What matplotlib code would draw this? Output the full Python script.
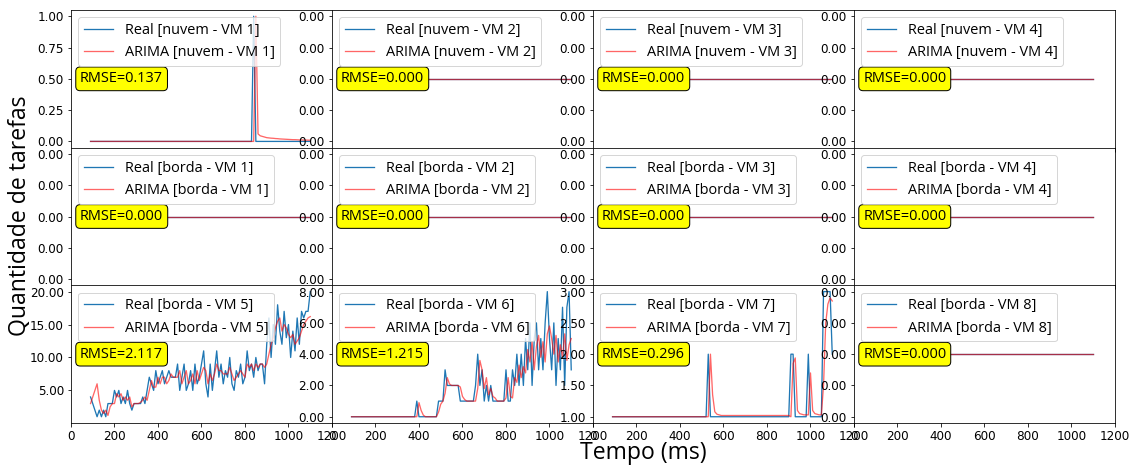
import numpy as np
import matplotlib.pyplot as plt
from matplotlib.ticker import FuncFormatter

# one sample every 10 ms
tempo = np.arange(90, 1101, 10)

# nuvem - VM 1
real_nuvem_vm1 = [0] * 75 + [1] + [0] * 26
arima_nuvem_vm1 = [0] * 76 + [1.0, 0.06, 0.045, 0.04, 0.035, 0.03,
                              0.028, 0.026, 0.025, 0.023, 0.022, 0.02, 0.019, 0.018, 0.017, 0.016,
                              0.015, 0.014, 0.014, 0.013, 0.012, 0.012, 0.011, 0.011, 0.01, 0.01]

# borda - VM 5
real_borda_vm5 = [4, 3, 2, 1, 2, 1, 2, 1, 3, 3,
                  3, 5, 4, 5, 3, 4, 3, 5, 3, 2,
                  3, 3, 3, 3, 4, 3, 5, 7, 6, 5,
                  8, 6, 7, 8, 6, 7, 8, 7, 7, 7,
                  9, 5, 7, 9, 5, 6, 8, 5, 9, 6,
                  7, 9, 11, 6, 4, 9, 5, 8, 11, 7,
                  9, 6, 8, 7, 10, 6, 5, 8, 7, 9,
                  6, 7, 11, 8, 9, 7, 10, 8, 9, 9,
                  6, 12, 16, 10, 15, 12, 18, 14, 12, 17,
                  13, 15, 10, 14, 11, 16, 12, 17, 16, 17,
                  17, 20]
arima_borda_vm5 = [3, 4, 5, 6, 3.5, 2, 1.5, 2, 1.2, 2.5,
                   3, 3, 4.5, 4, 4.5, 3.5, 4, 3.5, 4, 2.5,
                   3, 3, 3, 3.2, 3.5, 4, 3.5, 5, 6.5, 5.5,
                   5.5, 7, 6, 7, 7, 6, 6.5, 7.5, 7, 7,
                   7, 8, 6, 7, 8, 6, 6.5, 7.5, 6, 8,
                   6.5, 7.5, 8.5, 8, 6, 7.5, 6.5, 7.5, 9, 8,
                   8, 7.5, 7.5, 7.5, 8.5, 7.5, 6.5, 7, 7.5, 8,
                   7.5, 7, 9, 8.5, 9, 8, 9, 8.5, 9, 9,
                   8.5, 9, 10.5, 12, 13, 14.5, 15.5, 16, 14, 15,
                   14.5, 13.5, 13, 13.5, 12, 12.5, 13, 14, 15, 15.5,
                   16, 16.2]

# borda - VM 6
real_borda_vm6 = [0] * 30 + [1, 0, 0, 0, 0, 0, 0, 0, 0, 0,
                             1, 1, 1, 3, 2, 2, 2, 2, 2, 2,
                             1, 1, 1, 1, 1, 1, 1, 2, 4, 2,
                             3, 1, 2, 1, 2, 1, 1, 1, 1, 1,
                             1, 3, 1, 1, 3, 2, 4, 2, 4, 2,
                             5, 3, 6, 2, 5, 6, 3, 5, 3, 6,
                             8, 5, 3, 6, 2, 5, 3, 7, 2, 7,
                             8, 3]
arima_borda_vm6 = [0] * 30 + [0, 0.9, 0.4, 0.1, 0, 0, 0, 0, 0, 0,
                              0.3, 0.8, 1, 1.5, 2.5, 2.1, 2, 2, 2, 2,
                              1.9, 1.3, 1.1, 1, 1, 1, 1, 1, 1.8, 3.6,
                              3, 1.8, 2.5, 1.4, 1.8, 1.3, 1.2, 1, 1, 1,
                              1, 1.2, 2.5, 1.3, 1.2, 2.5, 2.2, 3.3, 2.5, 3.2,
                              2.8, 4.3, 3.5, 4.8, 3, 4.5, 5.2, 3.8, 4.8, 3.5,
                              5.3, 5.8, 5, 4, 5.2, 3.5, 4.6, 3.8, 5.3, 3.6,
                              4.6, 5.0]

# borda - VM 7
real_borda_vm7 = [1] * 44 + [2] + [1] * 37 + [2, 2] + [1] * 6 + [2] + [1] * 6 + [3, 3, 3, 3, 2]
arima_borda_vm7 = [1.0] * 45 + [2.0, 1.35, 1.08, 1.04, 1.03] + [1.02] * 32 + \
    [1.0, 1.85, 1.94, 1.1, 1.05, 1.04, 1.03, 1.03, 1.03, 1.7,
     1.1, 1.05, 1.04, 1.03, 1.03, 1.5, 2.5, 2.8, 2.9, 2.85]

# VMs with no tasks at all
sem_tarefas = [0] * 102

grupos = ["nuvem"] * 4 + ["borda"] * 8
vms = [1, 2, 3, 4, 1, 2, 3, 4, 5, 6, 7, 8]
reais = [real_nuvem_vm1, sem_tarefas, sem_tarefas, sem_tarefas,
         sem_tarefas, sem_tarefas, sem_tarefas, sem_tarefas,
         real_borda_vm5, real_borda_vm6, real_borda_vm7, sem_tarefas]
previstos = [arima_nuvem_vm1, sem_tarefas, sem_tarefas, sem_tarefas,
             sem_tarefas, sem_tarefas, sem_tarefas, sem_tarefas,
             arima_borda_vm5, arima_borda_vm6, arima_borda_vm7, sem_tarefas]
rmses = [0.137, 0.000, 0.000, 0.000,
         0.000, 0.000, 0.000, 0.000,
         2.117, 1.215, 0.296, 0.000]

texto = ["Open Sans", "DejaVu Sans"]

fig, axes = plt.subplots(3, 4, sharex=True, figsize=(1143 / 72, 470 / 72), dpi=72)
fig.subplots_adjust(left=0.0621, right=0.9755, top=0.9787, bottom=0.1, wspace=0, hspace=0)

for ax, grupo, vm, real, arima, rmse in zip(axes.flat, grupos, vms, reais, previstos, rmses):
    ax.plot(tempo, real, color="#1f77b4", lw=1.3, label=f"Real [{grupo} - VM {vm}]")
    ax.plot(tempo, arima, color="red", alpha=0.6, lw=1.3, label=f"ARIMA [{grupo} - VM {vm}]")
    if max(real) == min(real):
        v = real[0]
        ax.set_ylim(v - 0.0011, v + 0.0011)
    ax.yaxis.set_major_formatter(FuncFormatter(lambda y, _: f"{abs(y):.2f}"))
    ax.tick_params(labelsize=12)
    ax.legend(loc="upper left", prop={"family": texto, "size": 14.5})
    ax.text(0.035, 0.5, f"RMSE={rmse:.3f}", transform=ax.transAxes, va="center",
            family=texto, fontsize=14.5,
            bbox=dict(boxstyle="round,pad=0.3", fc="yellow", ec="black"))

axes[0, 0].set_xlim(0, 1200)

fig.text(0.0175, 0.54, "Quantidade de tarefas", rotation=90, va="center", ha="center",
         family=texto, fontsize=23)
fig.text(0.5625, 0.036, "Tempo (ms)", va="center", ha="center", family=texto, fontsize=23)

fig.savefig("out.png", dpi=72)
